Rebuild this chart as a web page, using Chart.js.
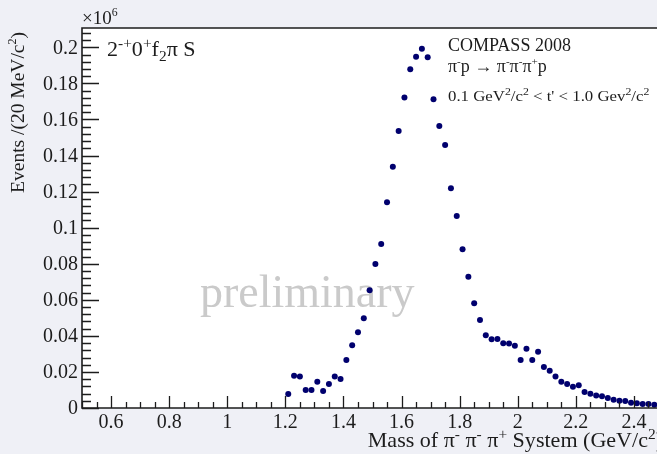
<!DOCTYPE html>
<html>
<head>
<meta charset="utf-8">
<script src="https://cdn.jsdelivr.net/npm/chart.js@4"></script>
<style>
  html, body { margin: 0; padding: 0; background: #eff0f6; overflow: hidden; width: 657px; height: 454px; }
  canvas { display: block; }
</style>
</head>
<body>
<canvas id="c" width="680" height="454"></canvas>
<script>
// 3-pion invariant mass, 20 MeV/c^2 bins (bin centres in GeV/c^2)
const massBins = [
  1.21, 1.23, 1.25, 1.27, 1.29, 1.31, 1.33, 1.35, 1.37, 1.39,
  1.41, 1.43, 1.45, 1.47, 1.49, 1.51, 1.53, 1.55, 1.57, 1.59,
  1.61, 1.63, 1.65, 1.67, 1.69, 1.71, 1.73, 1.75, 1.77, 1.79,
  1.81, 1.83, 1.85, 1.87, 1.89, 1.91, 1.93, 1.95, 1.97, 1.99,
  2.01, 2.03, 2.05, 2.07, 2.09, 2.11, 2.13, 2.15, 2.17, 2.19,
  2.21, 2.23, 2.25, 2.27, 2.29, 2.31, 2.33, 2.35, 2.37, 2.39,
  2.41, 2.43, 2.45, 2.47, 2.49
];
// Events per bin, in units of 10^6
const events = [
  0.0078, 0.0179, 0.0174, 0.0100, 0.0100, 0.0146, 0.0094, 0.0133, 0.0174, 0.0161,
  0.0266, 0.0348, 0.0420, 0.0497, 0.0653, 0.0798, 0.0909, 0.1141, 0.1338, 0.1536,
  0.1721, 0.1878, 0.1948, 0.1992, 0.1945, 0.1712, 0.1564, 0.1458, 0.1218, 0.1065,
  0.0880, 0.0728, 0.0581, 0.0488, 0.0403, 0.0381, 0.0383, 0.0359, 0.0357, 0.0345,
  0.0266, 0.0329, 0.0266, 0.0312, 0.0227, 0.0207, 0.0174, 0.0146, 0.0133, 0.0118,
  0.0126, 0.0089, 0.0079, 0.0070, 0.0065, 0.0055, 0.0046, 0.0040, 0.0039, 0.0029,
  0.0026, 0.0022, 0.0022, 0.0018, 0.0015
];

// Labelled axis ticks
const xTickLabels = [0.6, 0.8, 1, 1.2, 1.4, 1.6, 1.8, 2, 2.2, 2.4];
const yTickLabels = [0, 0.02, 0.04, 0.06, 0.08, 0.1, 0.12, 0.14, 0.16, 0.18, 0.2];
const xMinorStep = 0.05;
const yMinorStep = 0.004;

// Text annotations (^{..} superscript, _{..} subscript)
const yScaleFactor = '\u00d710^{6}';
const waveLabel = '2^{-+}0^{+}f_{2}\u03c0 S';
const expLabel = 'COMPASS 2008';
const reactionLabel = '\u03c0^{-}p \u2192 \u03c0^{-}\u03c0^{-}\u03c0^{+}p';
const tRangeLabel = "0.1 GeV^{2}/c^{2} < t' < 1.0 Gev^{2}/c^{2}";
const watermark = 'preliminary';
const xTitle = 'Mass of \u03c0^{-} \u03c0^{-} \u03c0^{+} System (GeV/c^{2})';
const yTitle = 'Events /(20 MeV/c^{2})';

const SERIF = '"Liberation Serif", "Times New Roman", serif';

function parseRich(s) {
  const out = [];
  let buf = '', i = 0;
  while (i < s.length) {
    const c = s[i];
    if ((c === '^' || c === '_') && s[i + 1] === '{') {
      if (buf) { out.push({ t: buf, m: 0 }); buf = ''; }
      const end = s.indexOf('}', i);
      out.push({ t: s.slice(i + 2, end), m: c === '^' ? 1 : -1 });
      i = end + 1;
    } else { buf += c; i++; }
  }
  if (buf) out.push({ t: buf, m: 0 });
  return out;
}

// Draws text with simple super/subscripts; sx stretches it horizontally
function drawRich(ctx, s, x, y, size, align, color, sx = 1, supScale = 0.62) {
  const parts = parseRich(s);
  const fontFor = p => (p.m ? size * supScale : size) + 'px ' + SERIF;
  let w = 0;
  parts.forEach(p => { ctx.font = fontFor(p); p.w = ctx.measureText(p.t).width; w += p.w; });
  const total = w * sx;
  const x0 = align === 'right' ? x - total : align === 'center' ? x - total / 2 : x;
  ctx.save();
  ctx.translate(x0, y);
  ctx.scale(sx, 1);
  ctx.fillStyle = color;
  ctx.textAlign = 'left';
  ctx.textBaseline = 'alphabetic';
  let cx = 0;
  parts.forEach(p => {
    ctx.font = fontFor(p);
    const dy = p.m === 1 ? -size * 0.4 : p.m === -1 ? size * 0.22 : 0;
    ctx.fillText(p.t, cx, dy);
    cx += p.w;
  });
  ctx.restore();
}

const near = (v, step) => Math.abs(v / step - Math.round(v / step)) < 1e-6;

const frameAndText = {
  id: 'frameAndText',
  beforeDraw(chart) {
    const { ctx, chartArea: a } = chart;
    ctx.save();
    ctx.fillStyle = '#ffffff';
    ctx.fillRect(a.left, a.top, a.right - a.left, a.bottom - a.top);
    ctx.restore();
  },
  beforeDatasetsDraw(chart) {
    const { ctx } = chart;
    ctx.save();
    ctx.font = '46px ' + SERIF;
    ctx.fillStyle = '#cacaca';
    ctx.textAlign = 'left';
    ctx.textBaseline = 'alphabetic';
    ctx.fillText(watermark, 200, 307);
    ctx.restore();
  },
  afterDraw(chart) {
    const { ctx, chartArea: a } = chart;
    const xs = chart.scales.x, ys = chart.scales.y;
    const ink = '#1c1c1c';
    ctx.save();

    // frame
    ctx.strokeStyle = ink;
    ctx.lineWidth = 1.6;
    ctx.beginPath();
    ctx.moveTo(a.right, a.top); ctx.lineTo(a.left, a.top);
    ctx.lineTo(a.left, a.bottom); ctx.lineTo(a.right, a.bottom);
    ctx.stroke();

    // y ticks (inward)
    ctx.lineWidth = 1.3;
    ctx.beginPath();
    for (let v = 0; v <= ys.max + 1e-9; v += yMinorStep) {
      const py = Math.round(ys.getPixelForValue(v)) + 0.5;
      const len = near(v, 0.02) ? 17 : 9;
      ctx.moveTo(a.left, py); ctx.lineTo(a.left + len, py);
    }
    // x ticks (inward)
    for (let v = xs.min; v <= xs.max + 1e-9; v += xMinorStep) {
      const px = Math.round(xs.getPixelForValue(v)) + 0.5;
      const len = near(v, 0.2) ? 12 : 6;
      ctx.moveTo(px, a.bottom); ctx.lineTo(px, a.bottom - len);
    }
    ctx.stroke();

    // tick labels
    ctx.fillStyle = ink;
    ctx.font = '20px ' + SERIF;
    ctx.textAlign = 'right';
    ctx.textBaseline = 'middle';
    yTickLabels.forEach(v => {
      ctx.fillText(String(v), a.left - 4, ys.getPixelForValue(v) + 1);
    });
    ctx.textAlign = 'center';
    ctx.textBaseline = 'top';
    xTickLabels.forEach(v => {
      ctx.fillText(String(v), xs.getPixelForValue(v), a.bottom + 5);
    });

    // annotations
    drawRich(ctx, yScaleFactor, 82, 24, 19, 'left', ink);
    drawRich(ctx, waveLabel, 107, 56, 21, 'left', ink, 1.05, 0.7);
    drawRich(ctx, expLabel, 448, 51, 18, 'left', ink);
    drawRich(ctx, reactionLabel, 448, 72, 18, 'left', ink);
    drawRich(ctx, tRangeLabel, 448, 101, 14, 'left', ink, 1.2, 0.7);
    drawRich(ctx, xTitle, a.right, 447, 21, 'right', ink, 1.05, 0.7);

    ctx.save();
    ctx.translate(24, a.top + 4);
    ctx.rotate(-Math.PI / 2);
    drawRich(ctx, yTitle, 0, 0, 19.5, 'right', ink);
    ctx.restore();

    ctx.restore();
  }
};

new Chart(document.getElementById('c'), {
  type: 'scatter',
  data: {
    datasets: [{
      data: massBins.map((m, i) => ({ x: m, y: events[i] })),
      backgroundColor: '#00006e',
      borderColor: '#00006e',
      pointRadius: 3,
      pointBorderWidth: 0,
      pointHoverRadius: 3
    }]
  },
  options: {
    responsive: false,
    animation: false,
    devicePixelRatio: 1,
    layout: { padding: { left: 82, top: 28, right: 17, bottom: 46 } },
    plugins: { legend: { display: false }, tooltip: { enabled: false } },
    scales: {
      x: { type: 'linear', min: 0.5, max: 2.5, display: false },
      y: { type: 'linear', min: 0, max: 0.2107, display: false }
    }
  },
  plugins: [frameAndText]
});
</script>
</body>
</html>
